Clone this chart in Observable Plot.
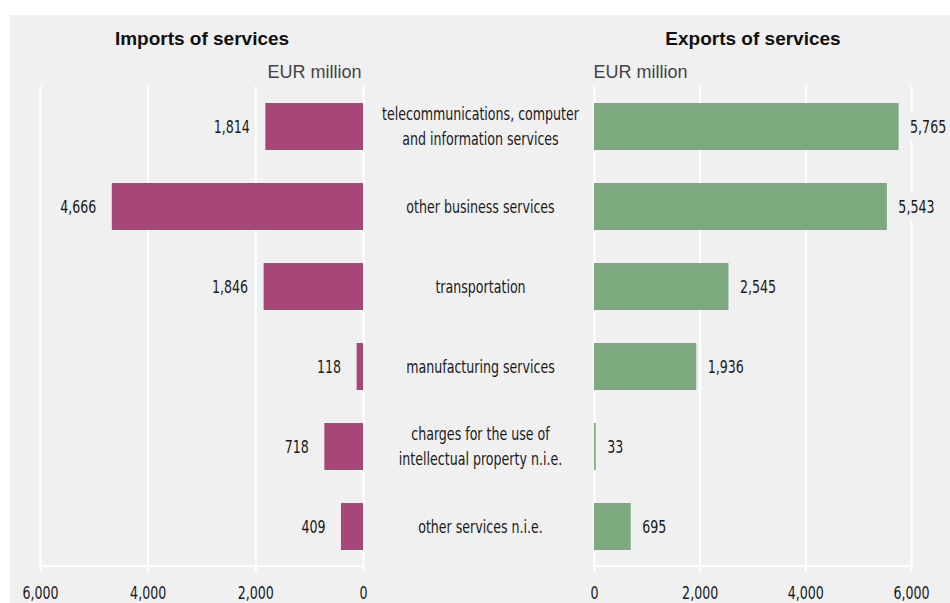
<!DOCTYPE html>
<html>
<head>
<meta charset="utf-8">
<script src="https://cdn.jsdelivr.net/npm/d3@7"></script>
<script src="https://cdn.jsdelivr.net/npm/@observablehq/plot@0.6"></script>
<style>
  html, body { margin: 0; padding: 0; background: #ffffff; }
  #chart { position: relative; width: 950px; height: 603px; overflow: hidden; background: #ffffff; }
  #panel { position: absolute; left: 10px; top: 15px; width: 940px; height: 588px; background: #f0f0f0; }
  #chart svg { position: absolute; left: 0; top: 0; overflow: visible; }
</style>
</head>
<body>
<div id="chart"><div id="panel"></div></div>
<script>
// ---- data ----
const categories = [
  "telecommunications, computer\nand information services",
  "other business services",
  "transportation",
  "manufacturing services",
  "charges for the use of\nintellectual property n.i.e.",
  "other services n.i.e."
];
const importValues = [1814, 4666, 1846, 118, 718, 409];
const exportValues = [5765, 5543, 2545, 1936, 33, 695];
const xTicks = [0, 2000, 4000, 6000];
const importTitle = "Imports of services";
const exportTitle = "Exports of services";
const unitLabel = "EUR million";

// ---- styling ----
const W = 950, H = 603;
const bg = "#f0f0f0";
const importColor = "#a84678";
const exportColor = "#7caa7e";
const textColor = "#1a1a1a";
const narrow = "'DejaVu Sans Condensed', sans-serif";
const regular = "'Liberation Sans', Arial, sans-serif";
const condense = 0.78; // horizontal squeeze to mimic a condensed face
const mTop = 86, mBottom = 37;
const yScale = {domain: categories, axis: null, paddingInner: 0.4125, paddingOuter: 0.206};
const fmt = d3.format(",");

const imports = categories.map((c, i) => ({category: c, value: importValues[i]}));
const exports = categories.map((c, i) => ({category: c, value: exportValues[i]}));

function axisLine(index, scales, values, dims) {
  const [a, b] = d3.extent(xTicks).map(scales.x);
  const y = dims.height - dims.marginBottom;
  return d3.create("svg:line")
    .attr("x1", Math.min(a, b) - 1).attr("x2", Math.max(a, b) + 1)
    .attr("y1", y).attr("y2", y)
    .attr("stroke", "white").attr("stroke-width", 2)
    .node();
}

function panel({rows, color, reverse, mLeft, mRight, title, side}) {
  return Plot.plot({
    width: W, height: H,
    marginTop: mTop, marginBottom: mBottom, marginLeft: mLeft, marginRight: mRight,
    style: {fontFamily: narrow, fontSize: "18px", background: "transparent", color: textColor},
    x: {domain: [0, 6000], reverse, label: null},
    y: yScale,
    marks: [
      Plot.gridX(xTicks, {stroke: "white", strokeOpacity: 1, strokeWidth: 2}),
      axisLine,
      Plot.barX(rows, {x: "value", y: "category", fill: color}),
      Plot.text(rows, {
        x: "value", y: "category", text: d => fmt(d.value),
        textAnchor: side === "left" ? "end" : "start",
        dx: side === "left" ? -16 : 11,
        fill: textColor, stroke: bg, strokeWidth: 14, fontSize: 18
      }),
      Plot.axisX(xTicks, {
        label: null, tickSize: 6, tickPadding: 14, tickFormat: d => fmt(d),
        stroke: "white", strokeWidth: 2, strokeOpacity: 1,
        fill: textColor, fontSize: 18
      }),
      Plot.text([title], {
        frameAnchor: "top", dy: -48, lineAnchor: "middle",
        fontFamily: regular, fontWeight: "bold", fontSize: 19, fill: "#111"
      }),
      Plot.text([unitLabel], {
        frameAnchor: side === "left" ? "top-right" : "top-left",
        textAnchor: side === "left" ? "end" : "start",
        dx: side === "left" ? -2 : -1, dy: -14, lineAnchor: "middle",
        fontFamily: regular, fontSize: 18, fill: "#444"
      })
    ]
  });
}

const left = panel({rows: imports, color: importColor, reverse: true, mLeft: 40, mRight: W - 363, title: importTitle, side: "left"});
const right = panel({rows: exports, color: exportColor, reverse: false, mLeft: 594, mRight: W - 911, title: exportTitle, side: "right"});

const middle = Plot.plot({
  width: W, height: H,
  marginTop: mTop, marginBottom: mBottom, marginLeft: 365, marginRight: W - 595,
  style: {fontFamily: narrow, fontSize: "18px", background: "transparent", color: textColor},
  y: yScale,
  marks: [
    Plot.text(categories, {y: d => d, text: d => d, frameAnchor: "middle", lineAnchor: "middle", dy: -2, lineHeight: 1.4, fill: textColor, fontSize: 18})
  ]
});

// squeeze the narrow-font texts horizontally about their anchor point
function condenseTexts(svg) {
  svg.querySelectorAll("text").forEach(t => {
    if (t.closest("g[font-family]")) return; // titles keep their own face
    const tr = t.getAttribute("transform");
    if (tr && tr.includes("translate")) t.setAttribute("transform", tr + ` scale(${condense},1)`);
  });
}

const chart = document.getElementById("chart");
for (const svg of [left, right, middle]) {
  condenseTexts(svg);
  chart.appendChild(svg);
}
</script>
</body>
</html>
